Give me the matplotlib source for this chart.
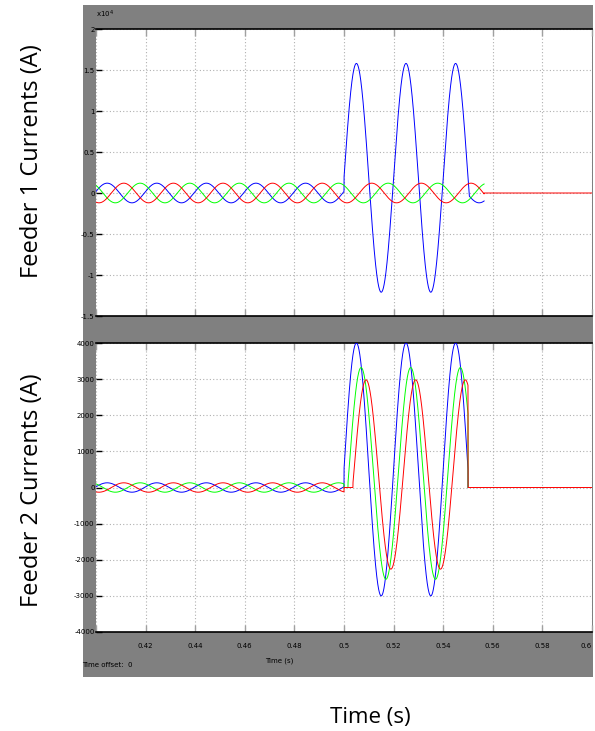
import numpy as np
import matplotlib
matplotlib.use("Agg")
import matplotlib.pyplot as plt

# Datos (corrientes en A, tiempo en s)
f_hz = 50.0
t_start, t_end = 0.4, 0.6
fases = ["blue", "green", "red"]
colores = ["#0000ff", "#00ff00", "#ff0000"]
pico_pre = [0.4045, 0.4178, 0.4112]          # instante de un pico antes de la falla

# Alimentador 1
amp_pre_1 = [1200, 1200, 1200]
falla_ini_1 = 0.5
falla_fin_1 = 0.5505                          # solo fase azul en falla
offset_falla_1 = 1850
amp_falla_1 = 13950
pico_falla_1 = 0.505
corte_1 = 0.5565

# Alimentador 2
amp_pre_2 = [130, 130, 130]
inicio_falla_2 = [0.5, 0.5016, 0.5036]
offset_falla_2 = [500, 390, 360]
amp_falla_2 = [3500, 2930, 2620]
pico_falla_2 = [0.505, 0.5069, 0.5089]
corte_2 = 0.5500

yticks_1 = [-1.5, -1, -0.5, 0, 0.5, 1, 1.5, 2]
ytick_labels_1 = ["-1.5", "-1", "-0.5", "0", "0.5", "1", "1.5", "2"]
yticks_2 = [-4000, -3000, -2000, -1000, 0, 1000, 2000, 3000, 4000]
ytick_labels_2 = ["-4000", "-3000", "-2000", "-1000", "0", "1000", "2000", "3000", "4000"]
xticks = [0.4, 0.42, 0.44, 0.46, 0.48, 0.5, 0.52, 0.54, 0.56, 0.58, 0.6]
xtick_labels = ["", "0.42", "0.44", "0.46", "0.48", "0.5", "0.52", "0.54", "0.56", "0.58", "0.6"]

t = np.arange(t_start, t_end, 1e-5)
w = 2 * np.pi * f_hz

W, H = 595, 731
fig = plt.figure(figsize=(W / 100, H / 100), dpi=100)
fig.patch.set_facecolor("white")

# fondo gris del osciloscopio
bg = fig.add_axes([83 / W, 1 - 677 / H, 510 / W, 672 / H], zorder=-1)
bg.set_facecolor("#808080")
bg.set_xticks([])
bg.set_yticks([])
for s in bg.spines.values():
    s.set_visible(False)

ax1 = fig.add_axes([96 / W, 1 - 316 / H, 496 / W, 287 / H])
ax2 = fig.add_axes([96 / W, 1 - 632 / H, 496 / W, 289 / H])

# Alimentador 1 (después del corte solo se ve la fase roja en cero)
for i, (fase, c) in enumerate(zip(fases, colores)):
    i_pre = amp_pre_1[i] * np.cos(w * (t - pico_pre[i]))
    despues = 0.0 if fase == "red" else np.nan
    y = np.where(t < corte_1, i_pre, despues)
    if fase == "blue":
        en_falla = (t >= falla_ini_1) & (t < falla_fin_1)
        y = np.where(en_falla, offset_falla_1 + amp_falla_1 * np.cos(w * (t - pico_falla_1)), y)
    ax1.plot(t, y / 1e4, color=c, lw=0.7, zorder=3)

# Alimentador 2
for i, (fase, c) in enumerate(zip(fases, colores)):
    i_pre = amp_pre_2[i] * np.cos(w * (t - pico_pre[i]))
    i_falla = offset_falla_2[i] + amp_falla_2[i] * np.cos(w * (t - pico_falla_2[i]))
    y = np.where(t < 0.5, i_pre, 0.0)
    y = np.where((t >= inicio_falla_2[i]) & (t < corte_2), i_falla, y)
    if fase != "red":
        y = np.where(t >= corte_2 + 2e-5, np.nan, y)
    ax2.plot(t, y, color=c, lw=0.7, zorder=3)

for ax in (ax1, ax2):
    ax.set_facecolor("white")
    ax.set_xlim(t_start, t_end)
    ax.set_xticks(xticks)
    ax.grid(True, color="#b0b0b0", linestyle=(0, (1, 2)), lw=0.8)
    ax.tick_params(axis="x", direction="in", length=5, width=1, color="#a0a0a0",
                   top=True, labelsize=5, pad=8)
    ax.tick_params(axis="y", direction="in", length=4, width=1, color="black",
                   labelsize=5, pad=1)
    for s in ("left", "right"):
        ax.spines[s].set_visible(False)
    ax.spines["top"].set_linewidth(1.2)
    ax.spines["bottom"].set_linewidth(1.2)

ax1.set_ylim(-1.5, 2)
ax1.set_yticks(yticks_1)
ax1.set_yticklabels(ytick_labels_1)
ax1.set_xticklabels([])
ax1.text(0.0, 1.03, r"x10$^4$", transform=ax1.transAxes, fontsize=5, ha="left", va="bottom")

ax2.set_ylim(-4000, 4000)
ax2.set_yticks(yticks_2)
ax2.set_yticklabels(ytick_labels_2)
ax2.set_xticklabels(xtick_labels)
ax2.get_xticklabels()[-1].set_horizontalalignment("right")
ax2.text(0.37, -0.1, "Time (s)", transform=ax2.transAxes, fontsize=5, ha="center", va="center")
ax2.text(-0.028, -0.114, "Time offset:  0", transform=ax2.transAxes, fontsize=5, ha="left", va="center")

fig.text(32 / W, 1 - 161 / H, "Feeder 1 Currents (A)", rotation=90, fontsize=17,
         family="Open Sans", ha="center", va="center")
fig.text(32 / W, 1 - 490 / H, "Feeder 2 Currents (A)", rotation=90, fontsize=17,
         family="Open Sans", ha="center", va="center")
fig.text(370 / W, 1 - 717 / H, "Time (s)", fontsize=16, family="Open Sans",
         ha="center", va="center")

fig.savefig("out.png", dpi=100)
